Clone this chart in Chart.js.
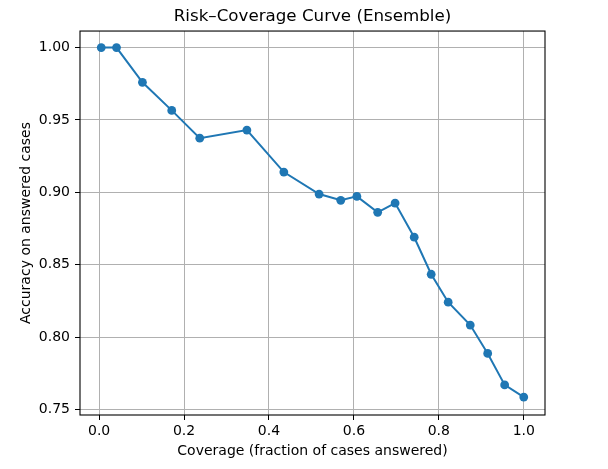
<!DOCTYPE html>
<html>
<head>
<meta charset="utf-8">
<script src="https://cdn.jsdelivr.net/npm/chart.js@4"></script>
<style>
  html, body { margin: 0; padding: 0; background: #fff; }
  #wrap { width: 608px; height: 469px; }
</style>
</head>
<body>
<div id="wrap"><canvas id="rc"></canvas></div>
<script>
// Data
const coverage = [0.005, 0.041, 0.102, 0.171, 0.237, 0.348, 0.435, 0.518, 0.569, 0.607,
                  0.656, 0.697, 0.742, 0.782, 0.822, 0.874, 0.915, 0.955, 1.0];
const accuracy = [1.0, 1.0, 0.976, 0.9566, 0.9374, 0.943, 0.914, 0.8988, 0.8945, 0.8972,
                  0.8862, 0.8926, 0.869, 0.8434, 0.8241, 0.8083, 0.7887, 0.767, 0.7586];
const xTicks = [0.0, 0.2, 0.4, 0.6, 0.8, 1.0];
const yTicks = [0.75, 0.80, 0.85, 0.90, 0.95, 1.00];

const font = { family: 'DejaVu Sans', size: 14 };

// matplotlib-style box around the axes
const boxPlugin = {
    id: 'box',
    afterDraw(chart) {
        const a = chart.chartArea, ctx = chart.ctx;
        ctx.save();
        ctx.strokeStyle = '#000';
        ctx.lineWidth = 1.1;
        ctx.strokeRect(a.left, a.top, a.right - a.left, a.bottom - a.top);
        ctx.restore();
    }
};

new Chart(document.getElementById('rc'), {
    type: 'scatter',
    data: {
        datasets: [{
            data: coverage.map((c, i) => ({ x: c, y: accuracy[i] })),
            showLine: true,
            borderColor: '#1f77b4',
            backgroundColor: '#1f77b4',
            borderWidth: 2,
            pointRadius: 4.4,
            pointHoverRadius: 4.4,
            pointBorderWidth: 0,
            tension: 0
        }]
    },
    options: {
        responsive: true,
        maintainAspectRatio: false,
        animation: false,
        layout: { padding: { left: 0, right: 63, top: 0, bottom: 0 } },
        plugins: {
            legend: { display: false },
            tooltip: { enabled: false },
            title: {
                display: true,
                text: 'Risk\u2013Coverage Curve (Ensemble)',
                color: '#000',
                fullSize: false,
                font: { family: 'DejaVu Sans', size: 16.7, weight: 'normal', lineHeight: 1.2 },
                padding: { top: 7, bottom: 4 }
            }
        },
        scales: {
            x: {
                type: 'linear',
                min: -0.045,
                max: 1.05,
                afterBuildTicks: s => { s.ticks = xTicks.map(v => ({ value: v })); },
                afterFit: s => { s.height = 54; },
                ticks: { color: '#000', font, padding: 3, maxRotation: 0, callback: v => v.toFixed(1) },
                grid: { color: '#b0b0b0', lineWidth: 1, tickColor: '#000', tickLength: 5 },
                border: { display: false },
                title: { display: true, text: 'Coverage (fraction of cases answered)', color: '#000', font, padding: { top: 0, bottom: 9 } }
            },
            y: {
                type: 'linear',
                min: 0.7462,
                max: 1.0114,
                afterBuildTicks: s => { s.ticks = yTicks.map(v => ({ value: v })); },
                afterFit: s => { s.width = 80; },
                ticks: { color: '#000', font, padding: 5, callback: v => v.toFixed(2) },
                grid: { color: '#b0b0b0', lineWidth: 1, tickColor: '#000', tickLength: 5 },
                border: { display: false },
                title: { display: true, text: 'Accuracy on answered cases', color: '#000', font, padding: { top: 18, bottom: 0 } }
            }
        }
    },
    plugins: [boxPlugin]
});
</script>
</body>
</html>
